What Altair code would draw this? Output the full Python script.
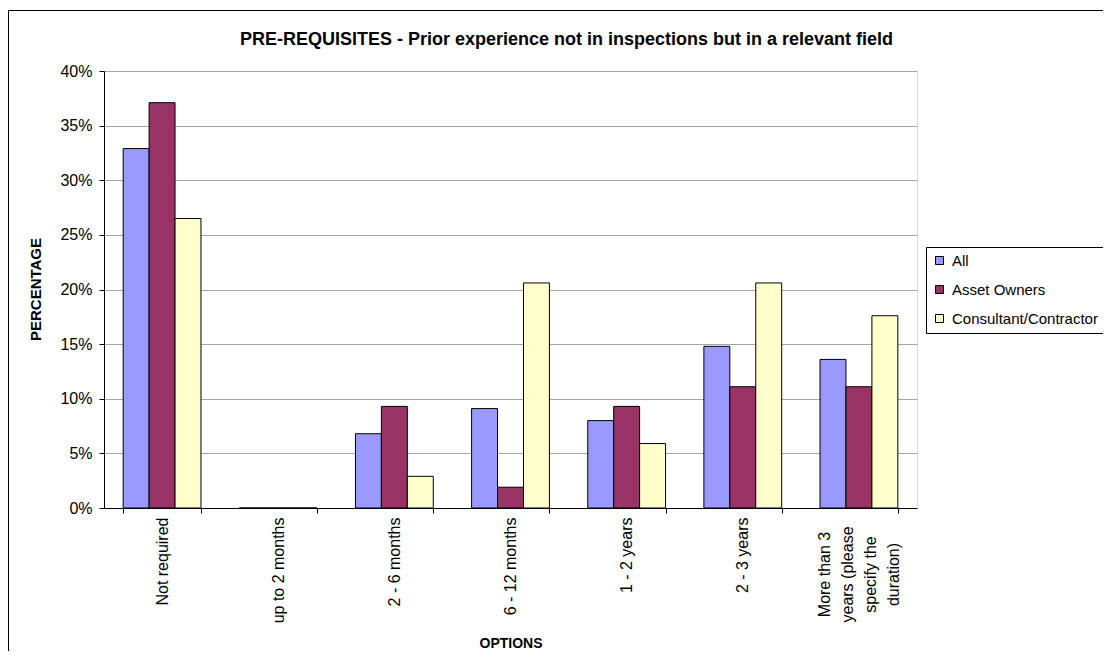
import altair as alt
import pandas as pd

categories = [
    "Not required",
    "up to 2 months",
    "2 - 6 months",
    "6 - 12 months",
    "1 - 2 years",
    "2 - 3 years",
    "More than 3 years (please specify the duration)",
]
series = ["All", "Asset Owners", "Consultant/Contractor"]
all_vals = [32.9, 0.0, 6.8, 9.1, 8.0, 14.8, 13.6]
owners_vals = [37.1, 0.0, 9.3, 1.9, 9.3, 11.1, 11.1]
consult_vals = [26.5, 0.0, 2.9, 20.6, 5.9, 20.6, 17.6]
colors = ["#9999FF", "#993366", "#FFFFCC"]
y_ticks = [0, 0.05, 0.10, 0.15, 0.20, 0.25, 0.30, 0.35, 0.40]

rows = []
for s, vals in zip(series, [all_vals, owners_vals, consult_vals]):
    for c, v in zip(categories, vals):
        rows.append({"option": c, "group": s, "value": v / 100.0})
df = pd.DataFrame(rows)

FONT = "Liberation Sans"
LONG = categories[-1]
is_long = "datum.label == '" + LONG + "'"

label_expr = (
    is_long + " ? ['More than 3', 'years  (please', 'specify the', 'duration)'] : datum.label"
)

bars = alt.Chart(df).mark_bar(stroke="black", strokeWidth=1).encode(
    x=alt.X(
        "option:N",
        sort=categories,
        scale=alt.Scale(paddingInner=0.33, paddingOuter=0.165),
        axis=alt.Axis(
            title="OPTIONS",
            titleFont=FONT,
            titleFontSize=14,
            titleFontWeight="bold",
            titleColor="black",
            titleX=406.5,
            titleY=135,
            titleAlign="center",
            titleBaseline="middle",
            labelAngle=270,
            labelAlign={"condition": {"test": is_long, "value": "center"}, "value": "right"},
            labelBaseline="middle",
            labelPadding={"condition": {"test": is_long, "value": 61}, "value": 4},
            labelOffset={"condition": {"test": is_long, "value": -34}, "value": 0},
            labelFont=FONT,
            labelFontSize=16,
            labelColor="black",
            labelLineHeight=23,
            labelExpr=label_expr,
            tickBand="extent",
            tickSize=5,
            tickColor="black",
            domainColor="black",
            labelLimit=300,
        ),
    ),
    xOffset=alt.XOffset("group:N", sort=series, scale=alt.Scale(paddingInner=0, paddingOuter=0)),
    y=alt.Y(
        "value:Q",
        scale=alt.Scale(domain=[0, 0.4], nice=False),
        axis=alt.Axis(
            title="PERCENTAGE",
            titleFont=FONT,
            titleFontSize=15,
            titleFontWeight="bold",
            titleColor="black",
            titleX=-69,
            titleY=218,
            titleAlign="center",
            titleBaseline="middle",
            values=y_ticks,
            format=".0%",
            labelFont=FONT,
            labelFontSize=16,
            labelColor="black",
            labelPadding=7,
            tickSize=5,
            tickColor="black",
            domainColor="black",
            gridColor="#a6a6a6",
            gridWidth=1,
        ),
    ),
    color=alt.Color(
        "group:N",
        sort=series,
        scale=alt.Scale(domain=series, range=colors),
        legend=alt.Legend(
            title=None,
            orient="none",
            legendX=822,
            legendY=176,
            symbolType="square",
            symbolSize=64,
            symbolStrokeColor="black",
            symbolStrokeWidth=1,
            labelFont=FONT,
            labelFontSize=15,
            labelColor="black",
            labelOffset=5,
            rowPadding=13,
            padding=6,
            strokeColor="black",
            fillColor="white",
            labelLimit=400,
        ),
    ),
)

border = alt.Chart(pd.DataFrame({"a": [0]})).mark_rect(
    fill="transparent", stroke="black", strokeWidth=1
).encode(
    x=alt.value(-95.5), x2=alt.value(1300), y=alt.value(-60.5), y2=alt.value(800)
)

chart = alt.layer(border, bars).properties(
    width=813,
    height=437,
    title=alt.TitleParams(
        "PRE-REQUISITES  - Prior experience not in inspections but in a relevant field",
        font=FONT,
        fontSize=18,
        fontWeight="bold",
        color="black",
        anchor="middle",
        frame="group",
        baseline="bottom",
        dx=56,
        offset=-57,
    ),
    autosize=alt.AutoSizeParams(type="none"),
    padding={"left": 96, "top": 63, "right": 186, "bottom": 143},
).configure_view(stroke="#808080", strokeWidth=1).configure(background="white")

chart.save("out.html", embed_options={"renderer": "svg", "actions": False})
